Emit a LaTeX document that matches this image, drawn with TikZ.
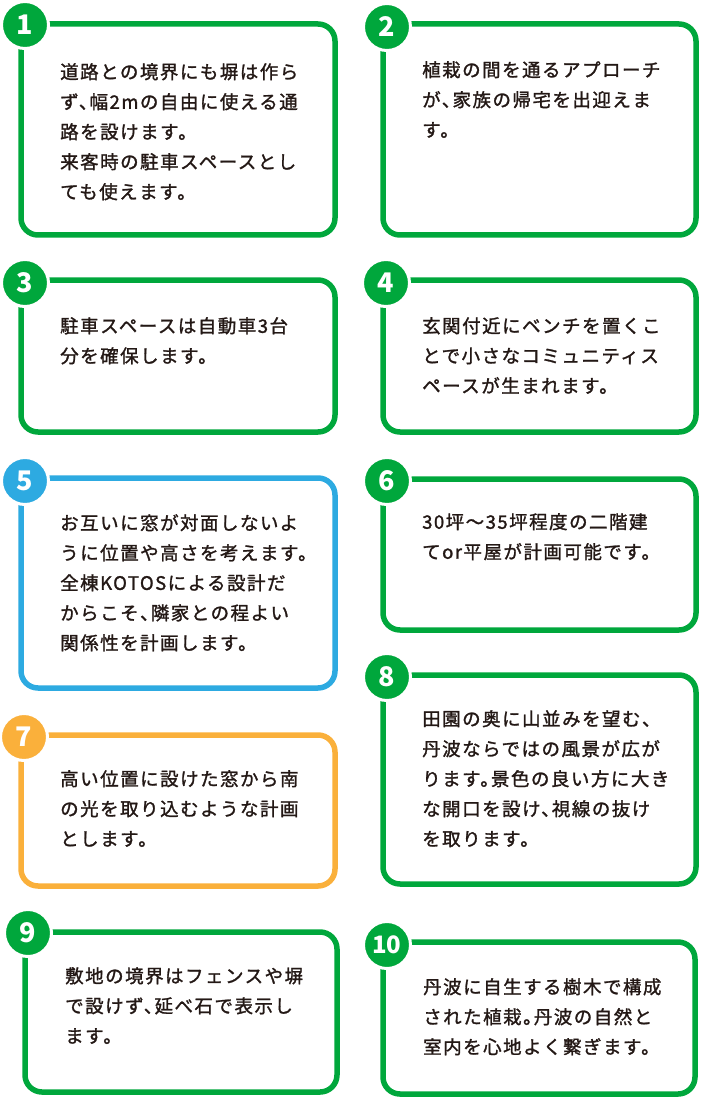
\documentclass[tikz,border=0pt]{standalone}
\usepackage{fontspec}
\setmainfont{Noto Sans CJK JP}[LetterSpace=8,FakeBold=1.4,CharacterWidth=AlternateHalf]
\newfontfamily\numfont{Noto Sans CJK JP}
\usetikzlibrary{positioning}
\definecolor{kgreen}{HTML}{00A73C}
\definecolor{kblue}{HTML}{2DAAE1}
\definecolor{korange}{HTML}{FAB03B}
\definecolor{ink}{HTML}{231815}

\begin{document}
\begin{tikzpicture}[x=1pt,y=-1pt,
    box/.style={draw=#1,line width=5.5pt,rounded corners=17pt,minimum width=314pt,inner sep=0pt,outer sep=0pt},
    num/.style={circle,fill=#1,draw=white,line width=3pt,minimum size=47pt,inner sep=0pt,text=white,font=\numfont\bfseries\fontsize{27}{27}\selectfont},
    txt/.style={align=left,inner sep=0pt,text=ink,font=\fontsize{18.5}{30}\selectfont}]
    \useasboundingbox (0,0) rectangle (701,1099);
    % boxes
    \node[box=kgreen,minimum height=211pt] (box_1) at (178,129.5) {};
    \node[box=kgreen,minimum height=211pt,minimum width=313pt] (box_2) at (539.5,129.5) {};
    \node[box=kgreen,minimum height=152pt] (box_3) at (178,356) {};
    \node[box=kgreen,minimum height=152pt,minimum width=313pt] (box_4) at (539.5,356) {};
    \node[box=kblue,minimum height=210pt] (box_5) at (178,583) {};
    \node[box=kgreen,minimum height=151pt,minimum width=313pt] (box_6) at (539.5,554.5) {};
    \node[box=korange,minimum height=151pt] (box_7) at (178,810.5) {};
    \node[box=kgreen,minimum height=209pt,minimum width=313pt] (box_8) at (539.5,779.5) {};
    \node[box=kgreen,minimum height=160pt,minimum width=312pt] (box_9) at (181,1012) {};
    \node[box=kgreen,minimum height=152pt,minimum width=312pt] (box_10) at (539,1018) {};
    % numbers
    \node[num=kgreen] (num_1) at (25,25) {1};
    \node[num=kgreen] (num_2) at (387,27) {2};
    \node[num=kgreen] (num_3) at (25,283) {3};
    \node[num=kgreen] (num_4) at (386,283) {4};
    \node[num=kblue] (num_5) at (25,481) {5};
    \node[num=kgreen] (num_6) at (387,481) {6};
    \node[num=korange] (num_7) at (24,737) {7};
    \node[num=kgreen] (num_8) at (387,677) {8};
    \node[num=kgreen] (num_9) at (28,933) {9};
    \node[num=kgreen,font=\numfont\bfseries\fontsize{24}{24}\selectfont] (num_10) at (387,945) {1\kern-1pt0};
    % texts
    \node[txt,below right=39pt and 39pt of box_1.north west] (txt_1) {道路との境界にも塀は作ら\\ず、幅2mの自由に使える通\\路を設けます。\\来客時の駐車スペースとし\\ても使えます。};
    \node[txt,below right=37pt and 39pt of box_2.north west] (txt_2) {植栽の間を通るアプローチ\\が、家族の帰宅を出迎えま\\す。};
    \node[txt,below right=37pt and 39pt of box_3.north west] (txt_3) {駐車スペースは自動車3台\\分を確保します。};
    \node[txt,below right=37pt and 39pt of box_4.north west] (txt_4) {玄関付近にベンチを置くこ\\とで小さなコミュニティス\\ペースが生まれます。};
    \node[txt,below right=36pt and 39pt of box_5.north west] (txt_5) {お互いに窓が対面しないよ\\うに位置や高さを考えます。\\全棟KOTOSによる設計だ\\からこそ、隣家との程よい\\関係性を計画します。};
    \node[txt,below right=34pt and 39pt of box_6.north west] (txt_6) {30坪〜35坪程度の二階建\\てor平屋が計画可能です。};
    \node[txt,below right=35pt and 39pt of box_7.north west] (txt_7) {高い位置に設けた窓から南\\の光を取り込むような計画\\とします。};
    \node[txt,below right=35pt and 39pt of box_8.north west] (txt_8) {田園の奥に山並みを望む、\\丹波ならではの風景が広が\\ります。景色の良い方に大き\\な開口を設け、視線の抜け\\を取ります。};
    \node[txt,below right=35pt and 40pt of box_9.north west] (txt_9) {敷地の境界はフェンスや塀\\で設けず、延べ石で表示し\\ます。};
    \node[txt,below right=36pt and 40pt of box_10.north west] (txt_10) {丹波に自生する樹木で構成\\された植栽。丹波の自然と\\室内を心地よく繋ぎます。};
\end{tikzpicture}
\end{document}
